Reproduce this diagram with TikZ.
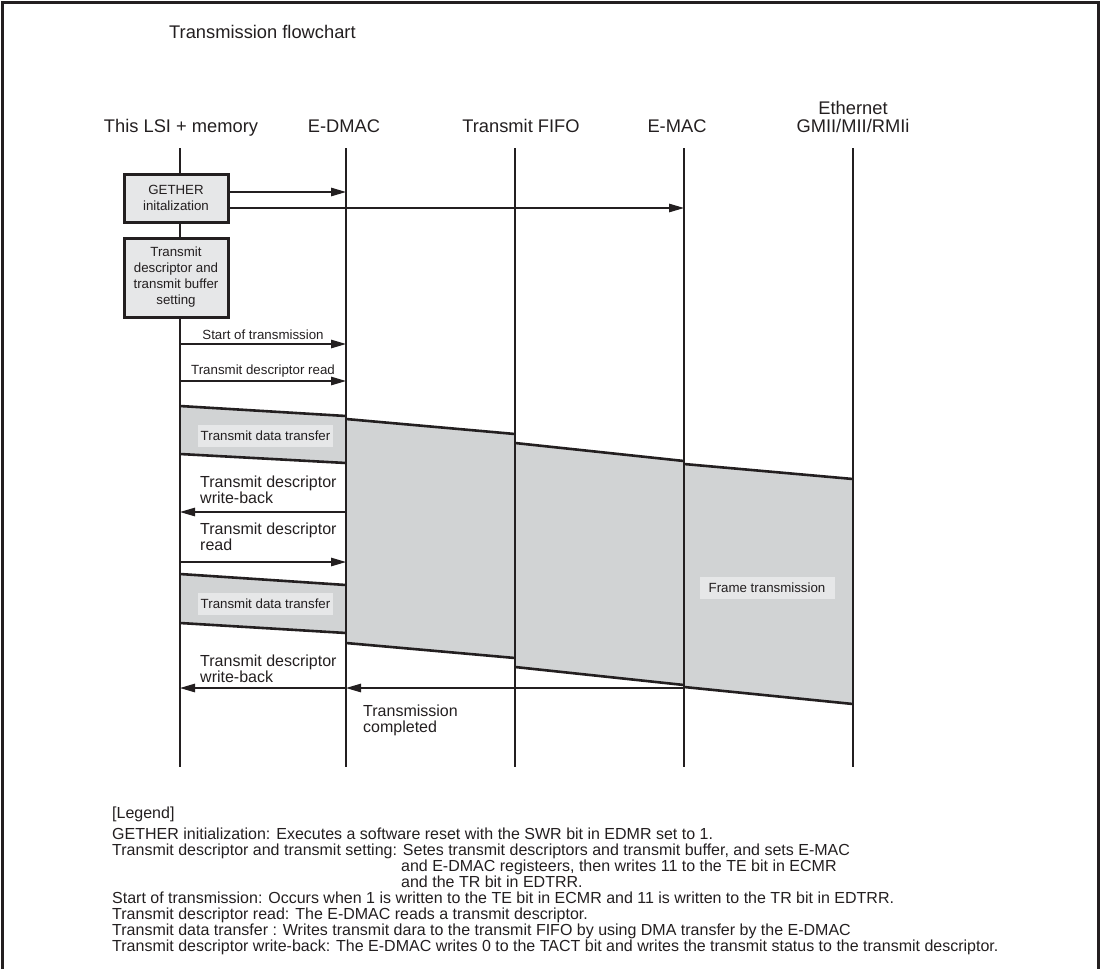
\documentclass[tikz,border=0pt]{standalone}
\usepackage{fontspec}
\setmainfont{Liberation Sans}
\usetikzlibrary{arrows.meta}
\definecolor{ink}{HTML}{231F20}
\definecolor{bandgray}{HTML}{D1D3D4}
\definecolor{taggray}{HTML}{E6E7E8}
\definecolor{boxgray}{HTML}{E6E7E8}

\begin{document}
\begin{tikzpicture}[
  x=1pt, y=-1pt,
  lane/.style={draw=ink, line width=2.4pt},
  hdr/.style={font=\fontsize{18.3}{18}\selectfont, text=ink, align=center, anchor=base, inner sep=0},
  setup/.style={draw=ink, line width=3pt, fill=boxgray, align=center, text=ink, font=\fontsize{13.3}{16}\selectfont, minimum width=104, inner sep=0},
  msg/.style={draw=ink, line width=1.2pt, -{Triangle[length=15pt,width=8.5pt]}},
  lbl/.style={font=\fontsize{13.3}{16}\selectfont, text=ink},
  note/.style={font=\fontsize{16}{15.7}\selectfont, text=ink, align=left, anchor=north west, inner sep=0},
  tag/.style={lbl, fill=taggray, minimum width=135, minimum height=22, inner sep=0},
  band/.style={fill=bandgray},
  rim/.style={draw=ink, line width=2.6pt},
  legend/.style={font=\fontsize{16}{16}\selectfont, text=ink, anchor=base west, inner sep=0}
]
\useasboundingbox (0,0) rectangle (1102,969);
\draw[ink, line width=3pt] (2,969) -- (2,2) -- (1098,2) -- (1098,969);

\node[hdr, anchor=base west] (title) at (169,38) {Transmission flowchart};
\node[hdr] (h-lsi) at (181,132) {This LSI + memory};
\node[hdr] (h-dmac) at (344,132) {E-DMAC};
\node[hdr] (h-fifo) at (521,132) {Transmit FIFO};
\node[hdr] (h-emac) at (677,132) {E-MAC};
\node[hdr] (h-eth) at (853,132) {Ethernet\\GMII/MII/RMIi};

\foreach \n/\x in {lsi/180,dmac/346,fifo/515,emac/684,eth/853} {
  \coordinate (\n) at (\x,148);
  \coordinate (\n-b) at (\x,767);
}

\fill[band] (180,406) -- (346,416) -- (346,463) -- (180,454) -- cycle;
\fill[band] (180,574) -- (346,585) -- (346,633) -- (180,623) -- cycle;
\fill[band] (346,419) -- (515,434) -- (515,658) -- (346,643) -- cycle;
\fill[band] (515,443) -- (684,461) -- (684,685) -- (515,667) -- cycle;
\fill[band] (684,464) -- (853,479) -- (853,704) -- (684,687) -- cycle;

\foreach \n in {lsi,dmac,fifo,emac,eth}
  \draw[lane] (\n) -- (\n-b);

\draw[rim] (180,406) -- (346,416) (180,454) -- (346,463);
\draw[rim] (180,574) -- (346,585) (180,623) -- (346,633);
\draw[rim] (346,419) -- (515,434) (346,643) -- (515,658);
\draw[rim] (515,443) -- (684,461) (515,667) -- (684,685);
\draw[rim] (684,464) -- (853,479) (684,687) -- (853,704);

\node[setup, minimum height=48] (gether) at (176,198) {GETHER\\initalization};
\node[setup, minimum height=79] (setbuf) at (176,277.5) {Transmit\\descriptor and\\transmit buffer\\setting};

\coordinate (g1) at (346,192);
\coordinate (g2) at (684,208);
\draw[msg] (gether.east |- g1) -- (g1);
\draw[msg] (gether.east |- g2) -- (g2);

\coordinate (st-a) at (180,344);
\coordinate (st-b) at (346,344);
\draw[msg] (st-a) -- node[lbl, above] {Start of transmission} (st-b);
\coordinate (rd-a) at (180,381);
\coordinate (rd-b) at (346,381);
\draw[msg] (rd-a) -- node[lbl, above] {Transmit descriptor read} (rd-b);

\node[tag] (xfer1) at (265.5,436) {Transmit data transfer};

\coordinate (wb-a) at (180,512);
\coordinate (wb-b) at (346,512);
\draw[msg] (wb-b) -- (wb-a);
\node[note] (wb1) at (200,476) {Transmit descriptor\\write-back};
\coordinate (rd2-a) at (180,562);
\coordinate (rd2-b) at (346,562);
\draw[msg] (rd2-a) -- (rd2-b);
\node[note] (rd2) at (200,523) {Transmit descriptor\\read};

\node[tag] (xfer2) at (265.5,603.5) {Transmit data transfer};
\node[tag] (frame) at (767,588) {Frame transmission};

\coordinate (wb2-a) at (180,688);
\coordinate (wb2-b) at (346,688);
\coordinate (done-a) at (684,688);
\draw[msg] (wb2-b) -- (wb2-a);
\node[note] (wb2) at (200,655) {Transmit descriptor\\write-back};
\draw[msg] (done-a) -- (wb2-b);
\node[note] (done) at (363,705) {Transmission\\completed};

\node[legend] (lg0) at (112,818) {[Legend]};
\node[legend] (lg1) at (112,839) {GETHER initialization: Executes a software reset with the SWR bit in EDMR set to 1.};
\node[legend] (lg2) at (112,855) {Transmit descriptor and transmit setting: Setes transmit descriptors and transmit buffer, and sets E-MAC};
\node[legend] (lg3) at (401,871) {and E-DMAC registeers, then writes 11 to the TE bit in ECMR};
\node[legend] (lg4) at (401,887) {and the TR bit in EDTRR.};
\node[legend] (lg5) at (112,903) {Start of transmission: Occurs when 1 is written to the TE bit in ECMR and 11 is written to the TR bit in EDTRR.};
\node[legend] (lg6) at (112,919) {Transmit descriptor read: The E-DMAC reads a transmit descriptor.};
\node[legend] (lg7) at (112,935) {Transmit data transfer : Writes transmit dara to the transmit FIFO by using DMA transfer by the E-DMAC};
\node[legend] (lg8) at (112,951) {Transmit descriptor write-back: The E-DMAC writes 0 to the TACT bit and writes the transmit status to the transmit descriptor.};
\end{tikzpicture}
\end{document}
